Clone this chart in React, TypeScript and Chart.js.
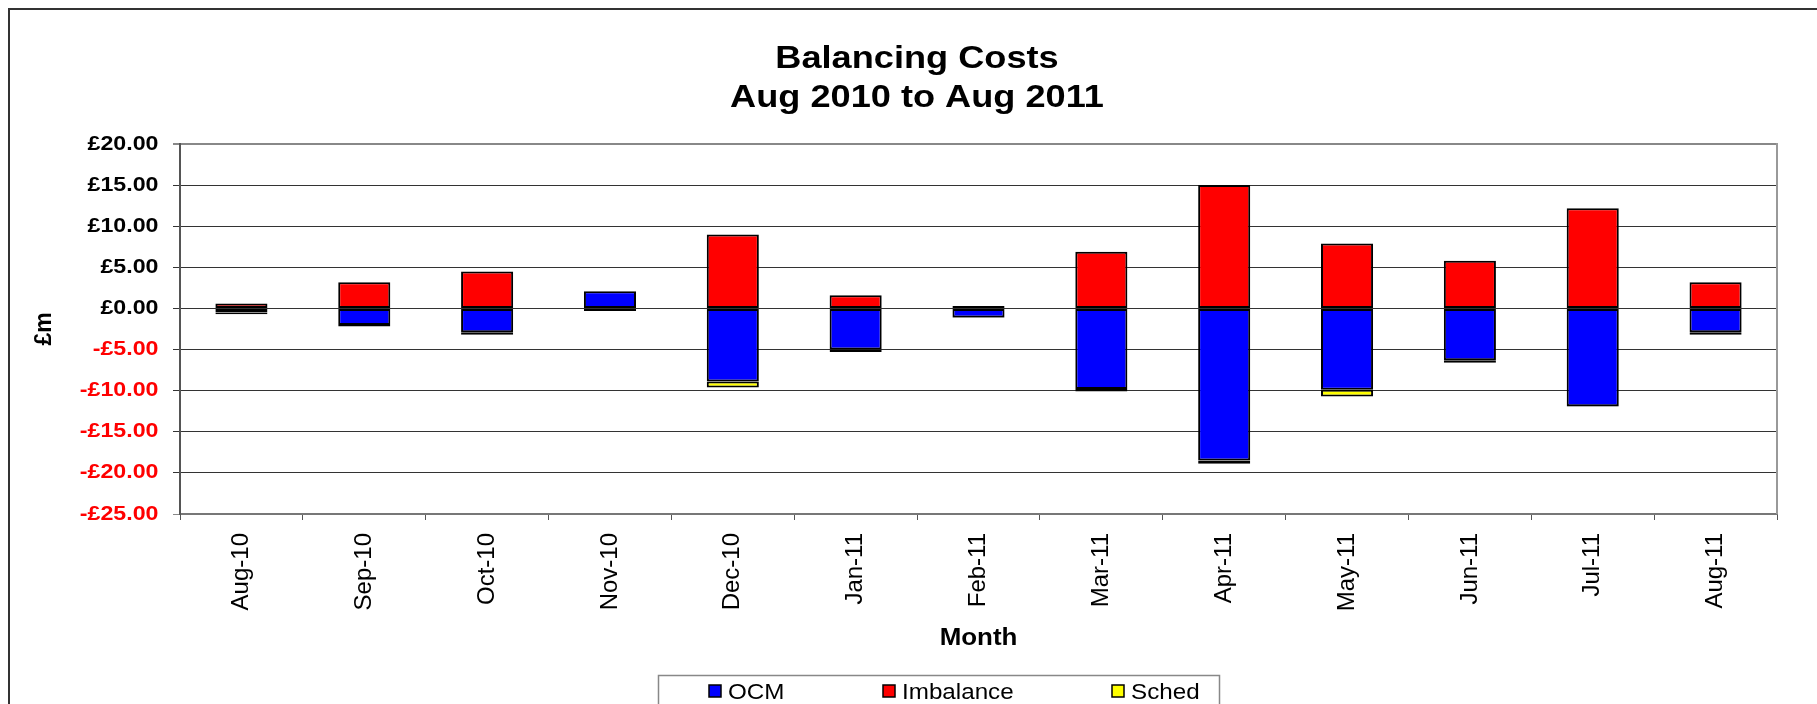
import React, { useEffect, useRef } from 'react';
import { Chart, registerables } from 'chart.js';

Chart.register(...registerables);

const months = ['Aug-10', 'Sep-10', 'Oct-10', 'Nov-10', 'Dec-10', 'Jan-11', 'Feb-11', 'Mar-11', 'Apr-11', 'May-11', 'Jun-11', 'Jul-11', 'Aug-11'];
const ocm = [-0.5, -2.0, -2.9, 2.1, -8.9, -5.0, -1.1, -9.8, -18.5, -9.9, -6.3, -11.9, -2.9];
const imbalance = [0.6, 3.2, 4.5, -0.2, 9.0, 1.6, 0.3, 6.9, 15.0, 7.9, 5.8, 12.2, 3.2];
const sched = [-0.2, -0.2, -0.3, -0.1, -0.7, -0.3, -0.05, -0.3, -0.4, -0.8, -0.3, -0.05, -0.3];
const seriesNames = ['OCM', 'Imbalance', 'Sched'];
const seriesColors = ['#0000FF', '#FF0000', '#FFFF00'];
const titleLines = ['Balancing Costs', 'Aug 2010 to Aug 2011'];
const yAxisTitle = '£m';
const xAxisTitle = 'Month';
const yMin = -25;
const yMax = 20;
const yStep = 5;

const FONT = '"Liberation Sans", Arial, Helvetica, sans-serif';

const fmtMoney = (v: number) => (v < 0 ? '-£' : '£') + Math.abs(v).toFixed(2);

function wideText(ctx: CanvasRenderingContext2D, text: string, x: number, y: number, sx: number) {
  ctx.save();
  ctx.translate(x, y);
  ctx.scale(sx, 1);
  ctx.fillText(text, 0, 0);
  ctx.restore();
}

const decor = {
  id: 'decor',
  afterDraw(chart: any) {
    const ctx = chart.ctx as CanvasRenderingContext2D;
    const a = chart.chartArea;
    ctx.save();
    // outer border
    ctx.strokeStyle = '#333';
    ctx.lineWidth = 2;
    ctx.strokeRect(9, 9, 1900, 800);
    // right frame of plot area
    ctx.strokeStyle = '#999';
    ctx.lineWidth = 2;
    ctx.beginPath();
    ctx.moveTo(a.right, a.top - 1);
    ctx.lineTo(a.right, a.bottom);
    ctx.stroke();
    // title
    ctx.fillStyle = '#000';
    ctx.font = `bold 32px ${FONT}`;
    ctx.textAlign = 'center';
    ctx.textBaseline = 'alphabetic';
    wideText(ctx, titleLines[0], 917, 68, 1.13);
    wideText(ctx, titleLines[1], 917, 107, 1.13);
    // y tick labels
    const ys = chart.scales.y;
    ctx.font = `bold 20px ${FONT}`;
    ctx.textAlign = 'right';
    ctx.textBaseline = 'middle';
    ys.ticks.forEach((t: any) => {
      ctx.fillStyle = t.value < 0 ? '#FF0000' : '#000000';
      wideText(ctx, fmtMoney(t.value), ys.right - 21.5, ys.getPixelForValue(t.value), 1.16);
    });
    // x axis title
    ctx.fillStyle = '#000';
    ctx.font = `bold 24px ${FONT}`;
    ctx.textAlign = 'center';
    ctx.textBaseline = 'alphabetic';
    wideText(ctx, xAxisTitle, (a.left + a.right) / 2, 645, 1.08);
    // legend box
    ctx.strokeStyle = '#888';
    ctx.lineWidth = 1.5;
    ctx.strokeRect(658.5, 675.5, 561, 60);
    const legendX = [709, 883, 1112];
    ctx.textAlign = 'left';
    chart.data.datasets.forEach((ds: any, i: number) => {
      const x = legendX[i];
      ctx.fillStyle = ds.backgroundColor;
      ctx.fillRect(x, 685, 12, 12);
      ctx.strokeStyle = '#000';
      ctx.lineWidth = 1.5;
      ctx.strokeRect(x, 685, 12, 12);
      ctx.fillStyle = '#000';
      ctx.font = `22px ${FONT}`;
      wideText(ctx, ds.label, x + 19, 699, 1.1);
    });
    ctx.restore();
  },
};

export default function App() {
  const ref = useRef<HTMLCanvasElement | null>(null);
  useEffect(() => {
    if (!ref.current) return;
    Chart.defaults.font.family = FONT;
    const chart = new Chart(ref.current, {
      type: 'bar',
      data: {
        labels: months,
        datasets: [ocm, imbalance, sched].map((d, i) => ({
          label: seriesNames[i],
          data: d,
          backgroundColor: seriesColors[i],
          borderColor: '#000',
          borderWidth: 2,
          borderSkipped: false,
          barPercentage: 0.424,
          categoryPercentage: 1,
          stack: 's',
        })),
      },
      options: {
        responsive: false,
        animation: false,
        layout: { padding: { top: 144, right: 40, left: 0, bottom: 0 } },
        plugins: { legend: { display: false }, title: { display: false }, tooltip: { enabled: false } },
        scales: {
          x: {
            stacked: true,
            afterFit: (s: any) => { s.height = 190; },
            grid: { offset: true, drawOnChartArea: false, drawTicks: true, tickLength: 6, color: '#555', lineWidth: 1 },
            border: { display: true, color: '#777', width: 2 },
            ticks: {
              minRotation: 90,
              maxRotation: 90,
              autoSkip: false,
              padding: 13,
              color: '#000',
              font: { size: 24, family: FONT },
            },
          },
          y: {
            stacked: true,
            min: yMin,
            max: yMax,
            afterFit: (s: any) => { s.width = 180; },
            grid: {
              color: (c: any) => (c.tick && (c.tick.value === yMax || c.tick.value === yMin) ? '#888' : '#333'),
              lineWidth: (c: any) => (c.tick && c.tick.value === yMax ? 2 : 1),
              tickLength: 7,
              drawTicks: true,
            },
            border: { display: true, color: '#555', width: 2 },
            ticks: {
              stepSize: yStep,
              display: false,
              callback: (v: any) => fmtMoney(Number(v)),
            },
            title: {
              display: true,
              text: yAxisTitle,
              color: '#000',
              font: { size: 23, weight: 'bold', family: FONT },
              padding: { top: 31, bottom: 0 },
            },
          },
        },
      },
      plugins: [decor],
    } as any);
    return () => chart.destroy();
  }, []);
  return (
    <div style={{ position: 'absolute', left: 0, top: 0, width: 1817, height: 704, background: '#fff' }}>
      <canvas ref={ref} width={1817} height={704} />
    </div>
  );
}
